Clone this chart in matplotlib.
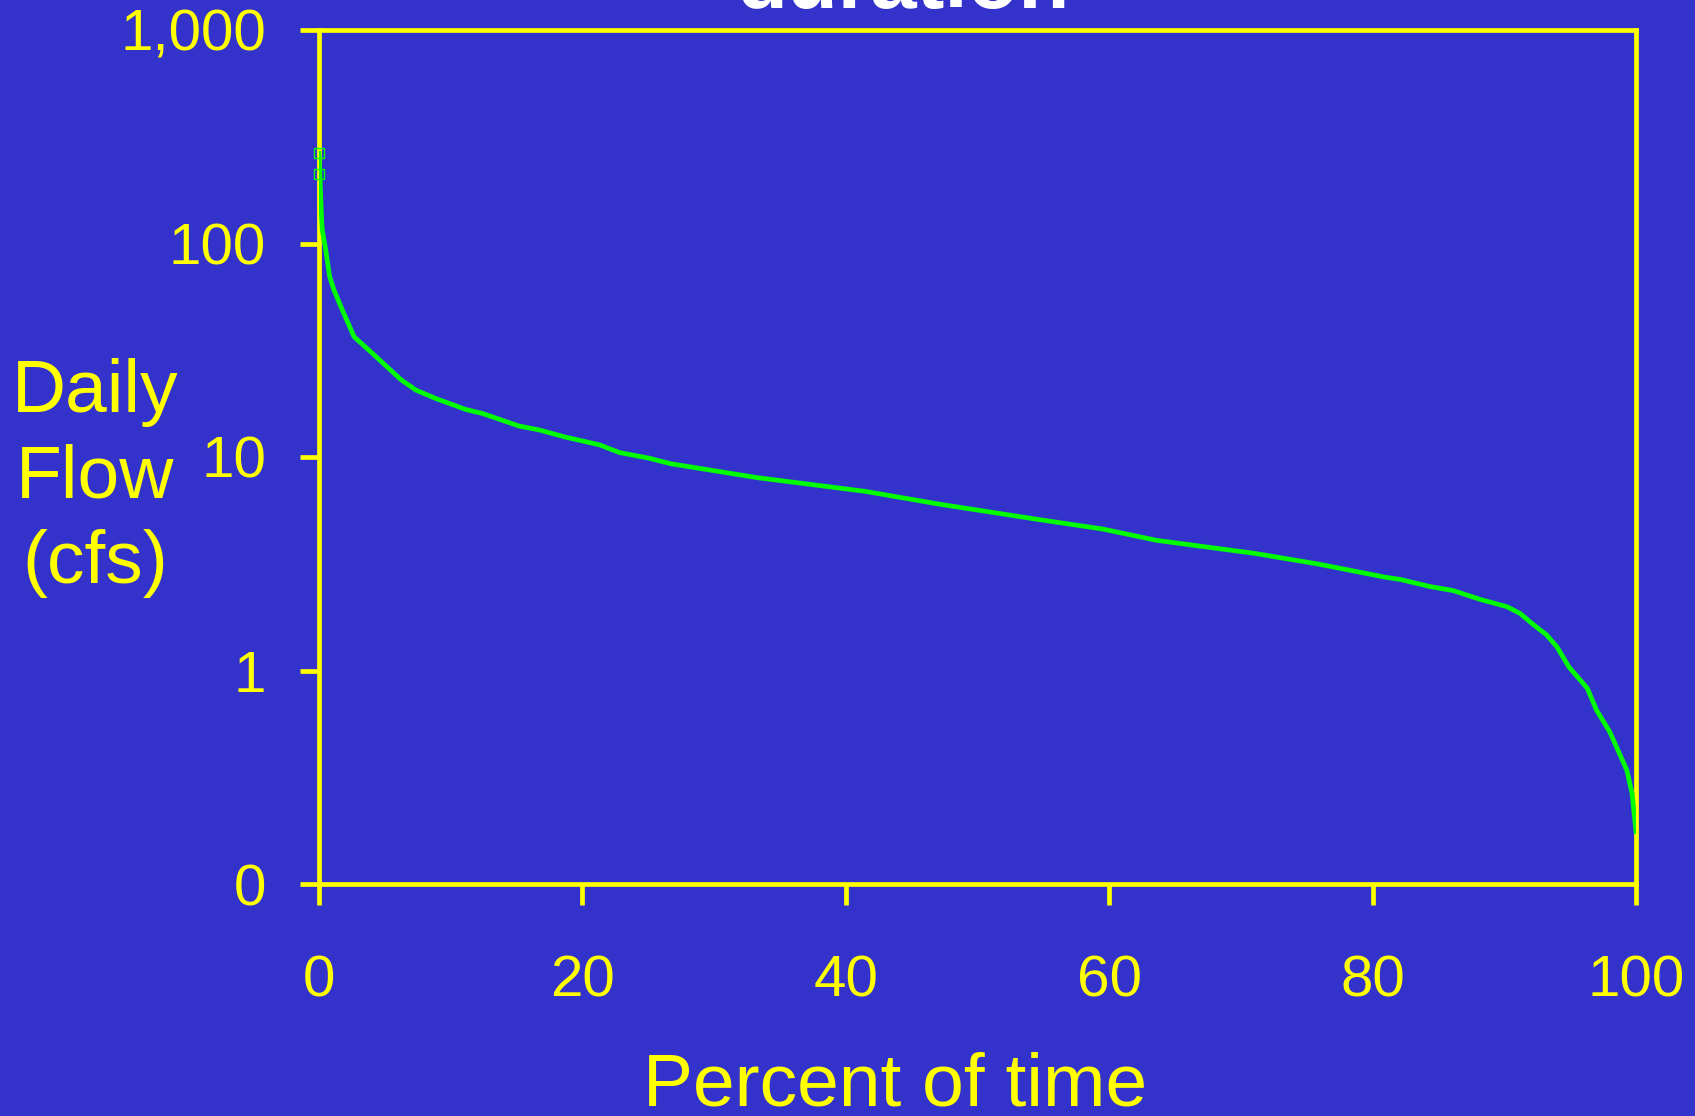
import numpy as np
import matplotlib.pyplot as plt
from matplotlib.ticker import FixedLocator, FixedFormatter, NullLocator

# flow duration curve
pct = [0, 0.1, 0.2, 0.25, 0.51, 0.81, 1.14, 1.77, 2.33, 2.66, 4.05, 6.2, 7.34,
       8.86, 11.14, 12.4, 15.2, 16.7, 18.7, 21.3, 22.8, 25.1, 26.7, 33.3, 41.5,
       47.2, 54.6, 59.5, 63.6, 71.0, 75.9, 80.9, 82.1, 84.4, 86.1, 88.2, 90.2,
       91.2, 92.1, 93.2, 94.0, 94.9, 96.3, 97.0, 98.0, 99.3, 99.7, 100]
flow = [265, 185, 129, 115.6, 93.3, 70, 60.5, 48.8, 40.8, 36.6, 30.6, 23.1, 20.6,
        18.8, 16.7, 16.0, 13.96, 13.4, 12.4, 11.4, 10.5, 9.86, 9.3, 8.0, 6.9,
        6.0, 5.1, 4.6, 4.07, 3.54, 3.15, 2.74, 2.67, 2.47, 2.37, 2.15, 1.99,
        1.85, 1.66, 1.47, 1.29, 1.04, 0.826, 0.653, 0.517, 0.342, 0.266, 0.176]
peak_pct = [0, 0]
peak_flow = [265, 211]

yticks = [0.1, 1, 10, 100, 1000]
ylabels = ['0', '1', '10', '100', '1,000']
xticks = [0, 20, 40, 60, 80, 100]

bg = '#3333cc'
yellow = '#ffff00'
green = '#00ff00'

plt.rcParams['font.family'] = ['Liberation Sans', 'DejaVu Sans']

fig = plt.figure(figsize=(16.95, 11.16), dpi=100, facecolor=bg)
ax = fig.add_axes([319 / 1695, 1 - 884 / 1116, 1317 / 1695, 854 / 1116], facecolor=bg)

ax.plot(pct, flow, color=green, lw=3.4, zorder=3, solid_joinstyle='round')
ax.plot(peak_pct, peak_flow, ls='none', marker='s', ms=7.5, mfc='none',
        mec=green, mew=1, zorder=4, clip_on=False)

ax.set_yscale('log')
ax.set_ylim(0.1, 1000)
ax.set_xlim(0, 100)
ax.yaxis.set_major_locator(FixedLocator(yticks))
ax.yaxis.set_major_formatter(FixedFormatter(ylabels))
ax.yaxis.set_minor_locator(NullLocator())
ax.set_xticks(xticks)

for s in ax.spines.values():
    s.set_color(yellow)
    s.set_linewidth(3.4)
ax.tick_params(axis='y', colors=yellow, length=14, width=3.4, pad=24, labelsize=42)
ax.tick_params(axis='x', colors=yellow, length=15, width=3.4, pad=36, labelsize=42)

fig.text(0.5283, 1 - 1106 / 1116, 'Percent of time', color=yellow, fontsize=54,
         ha='center', va='baseline')
fig.text(95 / 1695, 1 - 478 / 1116, 'Daily\nFlow\n(cfs)', color=yellow,
         fontsize=54, ha='center', va='center', linespacing=1.3)
fig.text(903 / 1695, 1 - 8 / 1116, 'duration', color='white', fontsize=60,
         fontweight='bold', ha='center', va='baseline')

fig.savefig('out.png', dpi=100, facecolor=bg)
